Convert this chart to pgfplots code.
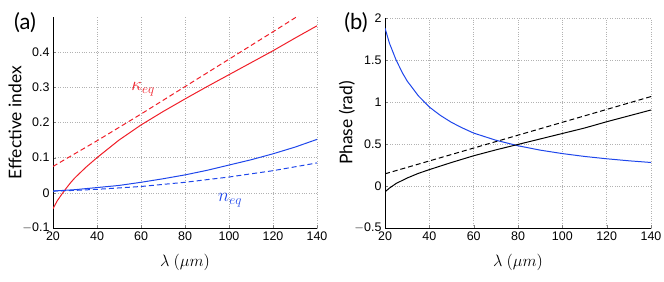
\RequirePackage{fix-cm}
\documentclass[border=0pt]{standalone}
\usepackage{pgfplots}
\pgfplotsset{compat=1.18}
\usepackage{fontspec}
\setmainfont{Lato}
\newfontfamily\tickfont{Liberation Sans}
\definecolor{cred}{RGB}{240,30,40}
\definecolor{cblue}{RGB}{30,70,235}
\pgfplotsset{
  myax/.style={
    scale only axis,
    axis x line*=bottom, axis y line*=left,
    tick align=inside,
    major tick length=3bp,
    grid=major,
    major grid style={dotted, gray!60, line width=0.5pt},
    tick label style={font=\tickfont\fontsize{12.5}{14}\selectfont},
    /pgf/number format/assume math mode=true,
    xmin=20, xmax=140, xtick={20,40,...,140},
    xlabel={$\lambda\ (\mu m)$},
    every axis x label/.style={at={(axis description cs:0.5,0)}, anchor=center, yshift=-34bp, font=\fontsize{16.5}{18}\selectfont},
    axis line style={line width=0.6pt},
    clip=true,
  }
}
\begin{document}
\begin{tikzpicture}[x=1bp,y=1bp]
\useasboundingbox (0,0) rectangle (664,281);
\begin{axis}[myax, at={(53bp,53bp)}, anchor=south west,
  width=264bp, height=211bp,
  ymin=-0.1, ymax=0.5, ytick={-0.1,0,0.1,0.2,0.3,0.4},
  yticklabels={$-$0.1,0,0.1,0.2,0.3,0.4},
  ylabel={Effective index},
  every axis y label/.style={at={(axis description cs:0,0.5)}, xshift=-38bp, rotate=90, anchor=center, font=\fontsize{17.5}{19}\selectfont}]
\addplot[cred, line width=1pt] coordinates {
(20,-0.045)(22,-0.022)(24,-0.004)(26,0.013)(28,0.029)(30,0.043)(35,0.073)(40,0.100)
(50,0.150)(60,0.193)(70,0.231)(80,0.267)(90,0.302)(100,0.336)(110,0.370)(120,0.404)(130,0.440)(140,0.475)};
\addplot[cred, line width=1pt, dash pattern=on 5bp off 3bp] coordinates {
(20,0.075)(40,0.148)(60,0.224)(80,0.302)(100,0.380)(120,0.458)(140,0.537)};
\addplot[cblue, line width=1pt] coordinates {
(20,0.005)(30,0.009)(40,0.015)(50,0.021)(60,0.030)(70,0.040)(80,0.051)(90,0.064)(100,0.079)(110,0.094)(120,0.111)(130,0.130)(140,0.152)};
\addplot[cblue, line width=1pt, dash pattern=on 5bp off 3bp] coordinates {
(20,0.005)(30,0.007)(40,0.010)(60,0.018)(80,0.030)(100,0.045)(120,0.063)(140,0.085)};
\node[cred, font=\fontsize{19}{21}\selectfont] at (axis cs:61,0.294) {$\kappa_{eq}$};
\node[cblue, font=\fontsize{19}{21}\selectfont] at (axis cs:100.5,-0.02) {$n_{eq}$};
\end{axis}
\node[font=\fontsize{22}{24}\selectfont] at (25,258) {(a)};
\begin{axis}[myax, at={(385bp,53bp)}, anchor=south west,
  width=266bp, height=210bp,
  ymin=-0.5, ymax=2, ytick={-0.5,0,0.5,1,1.5,2},
  yticklabels={$-$0.5,0,0.5,1,1.5,2},
  ylabel={Phase (rad)},
  every axis y label/.style={at={(axis description cs:0,0.5)}, xshift=-38bp, rotate=90, anchor=center, font=\fontsize{17.5}{19}\selectfont}]
\addplot[cblue, line width=1pt] coordinates {
(20,1.88)(22,1.70)(25,1.50)(28,1.34)(30,1.25)(35,1.075)(40,0.94)(45,0.84)(50,0.757)(55,0.69)
(60,0.63)(70,0.545)(80,0.479)(90,0.427)(100,0.386)(110,0.352)(120,0.324)(130,0.300)(140,0.280)};
\addplot[black, line width=1pt] coordinates {
(20,-0.07)(22,-0.025)(25,0.03)(30,0.095)(35,0.15)(40,0.195)(50,0.28)(60,0.36)(70,0.43)
(80,0.495)(90,0.56)(100,0.625)(110,0.69)(120,0.765)(130,0.835)(140,0.905)};
\addplot[black, line width=1pt, dash pattern=on 5bp off 3bp] coordinates {
(20,0.145)(140,1.065)};
\end{axis}
\node[font=\fontsize{22}{24}\selectfont] at (356,258) {(b)};
\end{tikzpicture}
\end{document}
